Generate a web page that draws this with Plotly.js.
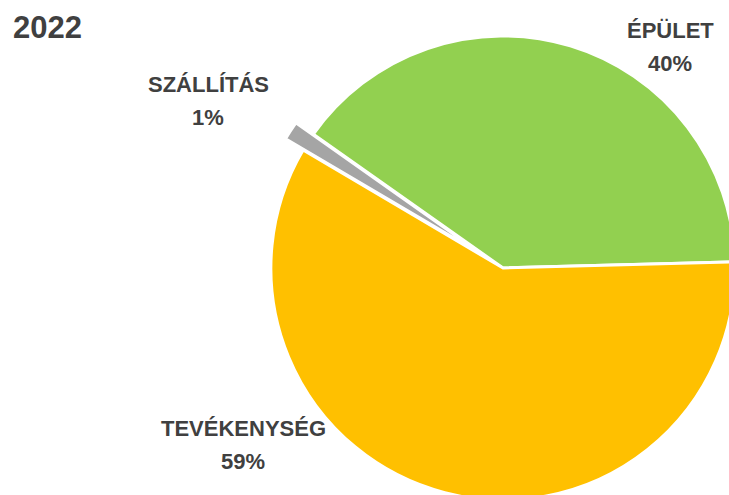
<!DOCTYPE html>
<html>
<head>
<meta charset="utf-8">
<script src="https://cdn.plot.ly/plotly-3.0.1.min.js"></script>
<style>
html, body { margin: 0; padding: 0; overflow: hidden; background: #ffffff; }
#chart { width: 760px; height: 540px; }
</style>
</head>
<body>
<div id="chart"></div>
<script>
// Data
var chartTitle = '2022';
var categories = ['ÉPÜLET', 'SZÁLLÍTÁS', 'TEVÉKENYSÉG'];
var shares = [39.8, 1.3, 58.9];
var sliceColors = ['#92D050', '#A5A5A5', '#FFC000'];
var pulls = [0, 0.09, 0];

var W = 760, H = 540;
function px(x) { return x / W; }
function py(y) { return 1 - y / H; }

var total = shares.reduce(function (a, b) { return a + b; }, 0);
var pctText = shares.map(function (v) { return Math.round(v / total * 100) + '%'; });

// first slice's clockwise edge sits at 88.5 deg (clock angle); plotly places
// the first counterclockwise slice clockwise of `rotation`, so shift back by it
var firstEdgeClock = 88.5;
var rotation = firstEdgeClock - shares[0] / total * 360;

// label placement (pixel centres of name line and percent line)
var labelPos = [
  { x: 670, y1: 30, y2: 63 },
  { x: 208, y1: 84, y2: 117 },
  { x: 243, y1: 428, y2: 461 }
];

var labelFont = { family: 'Liberation Sans, Arial, sans-serif', size: 22, color: '#404040' };
var annotations = [];
categories.forEach(function (c, i) {
  annotations.push({ text: '<b>' + c + '</b>', x: px(labelPos[i].x), y: py(labelPos[i].y1), xref: 'paper', yref: 'paper',
    xanchor: 'center', yanchor: 'middle', showarrow: false, font: labelFont });
  annotations.push({ text: '<b>' + pctText[i] + '</b>', x: px(labelPos[i].x), y: py(labelPos[i].y2), xref: 'paper', yref: 'paper',
    xanchor: 'center', yanchor: 'middle', showarrow: false, font: labelFont });
});
annotations.push({ text: '<b>' + chartTitle + '</b>', x: px(47), y: py(28), xref: 'paper', yref: 'paper',
  xanchor: 'center', yanchor: 'middle', showarrow: false,
  font: { family: 'Liberation Sans, Arial, sans-serif', size: 31, color: '#404040' } });

var trace = {
  type: 'pie',
  labels: categories,
  values: shares,
  sort: false,
  direction: 'counterclockwise',
  rotation: rotation,
  pull: pulls,
  marker: { colors: sliceColors, line: { color: '#ffffff', width: 3 } },
  textinfo: 'none',
  hoverinfo: 'none',
  showlegend: false,
  domain: { x: [250 / W, 756 / W], y: [(H - 521) / H, (H - 15) / H] }
};

var layout = {
  width: W,
  height: H,
  margin: { l: 0, r: 0, t: 0, b: 0 },
  paper_bgcolor: '#ffffff',
  plot_bgcolor: '#ffffff',
  showlegend: false,
  annotations: annotations
};

Plotly.newPlot('chart', [trace], layout, { staticPlot: true, displayModeBar: false });
</script>
</body>
</html>
